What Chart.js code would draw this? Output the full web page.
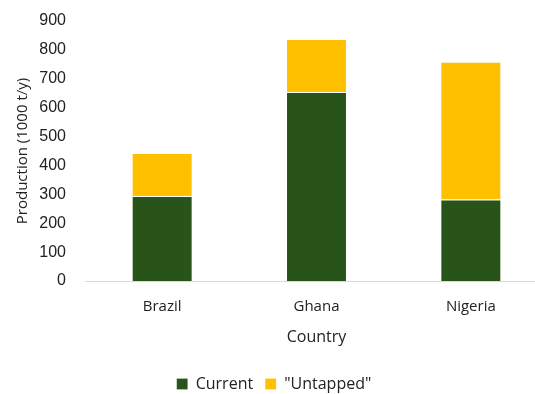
<!DOCTYPE html>
<html>
<head>
<meta charset="utf-8">
<script src="https://cdn.jsdelivr.net/npm/chart.js@4"></script>
<style>
  html, body { margin: 0; padding: 0; background: #fff; overflow: hidden; }
  .chart-container { position: relative; width: 548px; height: 402px; }
</style>
</head>
<body>
<div class="chart-container">
  <canvas id="productionChart"></canvas>
</div>
<script>
const countries = ['Brazil', 'Ghana', 'Nigeria'];
const currentProduction = [294, 654, 282];
const untappedProduction = [149, 184, 477];

const tickFont = { family: 'Liberation Sans', size: 16 };
const labelFont = { family: 'Open Sans', size: 15 };

new Chart(document.getElementById('productionChart'), {
    type: 'bar',
    data: {
        labels: countries,
        datasets: [
            {
                label: 'Current',
                data: currentProduction,
                backgroundColor: '#285419',
                borderColor: 'rgba(255,255,255,0.2)',
                borderWidth: 1,
            },
            {
                label: '"Untapped"',
                data: untappedProduction,
                backgroundColor: '#FFC000',
                borderColor: 'rgba(255,255,255,0.2)',
                borderWidth: 1,
            },
        ],
    },
    options: {
        responsive: true,
        maintainAspectRatio: false,
        animation: false,
        layout: { padding: { top: 21, left: 0, right: 0, bottom: 0 } },
        plugins: {
            legend: {
                position: 'bottom',
                labels: {
                    font: { family: 'Open Sans', size: 16 },
                    color: '#222',
                    boxWidth: 11,
                    boxHeight: 11,
                    padding: 12,
                },
            },
            tooltip: { enabled: false },
        },
        datasets: {
            bar: { categoryPercentage: 1, barPercentage: 0.395 },
        },
        scales: {
            x: {
                stacked: true,
                grid: { display: false, drawTicks: false },
                border: { color: '#d9d9d9', width: 1 },
                ticks: { font: labelFont, color: '#222', padding: 17 },
                title: {
                    display: true,
                    text: 'Country',
                    font: { family: 'Open Sans', size: 16 },
                    color: '#222',
                    padding: { top: 0, bottom: 17 },
                },
                afterFit: scale => { scale.height = 83; },
            },
            y: {
                stacked: true,
                min: 0,
                max: 900,
                grid: { display: false, drawTicks: false },
                border: { display: false },
                ticks: { stepSize: 100, font: tickFont, color: '#222', padding: 19 },
                title: {
                    display: true,
                    text: 'Production (1000 t/y)',
                    font: labelFont,
                    color: '#222',
                    padding: { top: 14, bottom: 0 },
                },
                afterFit: scale => {
                    // keep the tick padding from pushing the plot area down
                    scale.width = 85;
                    scale.paddingTop = 0;
                    scale.paddingBottom = 0;
                },
            },
        },
    },
});
</script>
</body>
</html>
